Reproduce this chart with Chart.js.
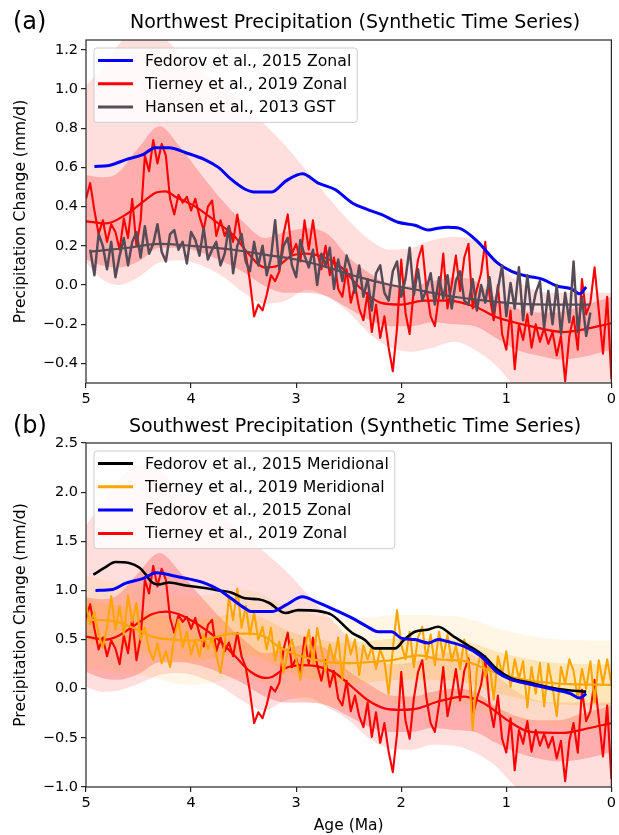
<!DOCTYPE html>
<html>
<head>
<meta charset="utf-8">
<script src="https://cdn.jsdelivr.net/npm/chart.js@4.4.1/dist/chart.umd.min.js"></script>
<style>
  html, body { margin: 0; padding: 0; background: #fff; }
  #wrap { position: relative; width: 619px; height: 835px; }
  #wrap canvas { position: absolute; left: 0; top: 0; }
</style>
</head>
<body>
<div id="wrap">
  <canvas id="panel-a" width="619" height="835"></canvas>
  <canvas id="panel-b" width="619" height="835"></canvas>
</div>
<script>
(function () {
  'use strict';

  var FONT = '"DejaVu Sans", sans-serif';
  var BLUE = '#0000ff', RED = '#ff0000', ORANGE = '#ffa500', BLACK = '#000000', GREY = '#574b57';

  // ---- axes / ticks ----
  var xTicks = [5, 4, 3, 2, 1, 0];
  var yTicksTop = [-0.4, -0.2, 0.0, 0.2, 0.4, 0.6, 0.8, 1.0, 1.2];
  var yTicksBot = [-1.0, -0.5, 0.0, 0.5, 1.0, 1.5, 2.0, 2.5];

  // noisy series are sampled every 0.04 Ma
  var NOISE_STEP = 0.04;
  var redStart = 5.0, orangeStart = 5.0, hansenStart = 4.96;

  // ---- panel (a): Northwest ----
  var topRedNoisy = [
    0.44, 0.52, 0.38, 0.26, 0.33, 0.22, 0.31, 0.27, 0.18, 0.34,
    0.24, 0.44, 0.20, 0.33, 0.66, 0.58, 0.74, 0.62, 0.72, 0.66,
    0.44, 0.36, 0.46, 0.42, 0.45, 0.38, 0.44, 0.35, 0.28, 0.40,
    0.43, 0.25, 0.33, 0.25, 0.30, 0.22, 0.36, 0.22, 0.16, 0.02,
    -0.16, -0.10, -0.13, -0.05, 0.05, 0.02, 0.07, 0.26, 0.36, 0.16,
    0.21, 0.12, 0.33, 0.18, 0.33, 0.17, 0.08, 0.20, 0.05, 0.14,
    -0.02, -0.06, 0.08, -0.09, 0.00, -0.12, -0.18, -0.04, -0.24, -0.10,
    -0.27, -0.16, -0.32, -0.44, -0.22, 0.13, -0.14, -0.25, -0.02, 0.13,
    0.20, -0.02, -0.16, -0.21, -0.05, 0.16, -0.12, 0.00, 0.15, -0.03,
    0.14, 0.21, -0.12, -0.02, 0.06, 0.22, -0.05, -0.18, 0.00, -0.25,
    -0.33, -0.13, -0.43, -0.20, -0.28, -0.15, -0.32, -0.20, -0.29, -0.22,
    -0.30, -0.24, -0.36, -0.26, -0.49, -0.26, -0.16, -0.33, 0.03, -0.15,
    -0.09, 0.09, -0.13, -0.35, -0.06, -0.48
  ];
  var hansenNoisy = [
    0.18, 0.05, 0.26, 0.20, 0.08, 0.22, 0.04, 0.15, 0.24, 0.10,
    0.22, 0.27, 0.14, 0.30, 0.16, 0.21, 0.31, 0.17, 0.12, 0.26,
    0.28, 0.18, 0.22, 0.11, 0.27, 0.23, 0.15, 0.29, 0.13, 0.18,
    0.22, 0.10, 0.16, 0.30, 0.06, 0.20, 0.26, 0.12, 0.07, 0.22,
    0.10, 0.20, 0.05, 0.14, 0.33, 0.08, 0.20, 0.24, 0.10, 0.04,
    0.23, 0.15, 0.09, 0.18, 0.00, 0.16, 0.10, 0.19, -0.02, 0.13,
    0.02, 0.15, 0.08, -0.04, 0.10, -0.06, 0.03, -0.13, 0.06, 0.10,
    -0.04, -0.08, 0.07, 0.12, -0.06, 0.03, 0.19, -0.05, 0.08, -0.08,
    -0.02, 0.06, -0.10, 0.04, -0.07, 0.05, -0.12, 0.02, 0.07, -0.08,
    -0.10, 0.03, -0.13, 0.00, -0.09, 0.04, -0.14, -0.02, 0.10, -0.16,
    0.01, -0.12, 0.09, -0.18, 0.05, -0.15, -0.04, 0.02, -0.22, -0.03,
    -0.20, 0.00, -0.25, -0.04, -0.19, 0.12, -0.24, -0.06, -0.26, -0.14
  ];
  var hansenMeanAge = [4.96, 4.6, 4.3, 4.0, 3.6, 3.3, 3.0, 2.7, 2.4, 2.1, 1.8, 1.5, 1.2, 0.9, 0.5, 0.2];
  var hansenMeanVal = [0.17, 0.19, 0.21, 0.20, 0.18, 0.155, 0.13, 0.09, 0.04, 0.0, -0.03, -0.06, -0.08, -0.095, -0.10, -0.10];

  var topRedMeanAge = [5.0, 4.81, 4.62, 4.43, 4.34, 4.24, 4.15, 3.96, 3.78, 3.59, 3.47, 3.30, 3.17, 3.04, 2.90, 2.73, 2.57, 2.41, 2.20, 2.00, 1.78, 1.55, 1.28, 1.09, 0.77, 0.45, 0.30, 0.0];
  var topRedMeanVal = [0.325, 0.314, 0.36, 0.436, 0.47, 0.478, 0.45, 0.40, 0.33, 0.25, 0.17, 0.09, 0.10, 0.15, 0.16, 0.14, 0.09, -0.005, -0.09, -0.10, -0.08, -0.08, -0.115, -0.165, -0.21, -0.24, -0.23, -0.195];

  var topFedAge = [4.92, 4.78, 4.62, 4.46, 4.34, 4.21, 4.05, 3.87, 3.74, 3.62, 3.49, 3.40, 3.23, 3.10, 2.94, 2.79, 2.63, 2.47, 2.32, 2.19, 2.03, 1.87, 1.74, 1.65, 1.56, 1.45, 1.28, 1.09, 0.95, 0.80, 0.66, 0.52, 0.38, 0.30, 0.24];
  var topFedVal = [0.605, 0.61, 0.64, 0.665, 0.70, 0.70, 0.675, 0.64, 0.60, 0.54, 0.49, 0.475, 0.475, 0.53, 0.568, 0.52, 0.487, 0.42, 0.385, 0.36, 0.32, 0.305, 0.28, 0.29, 0.295, 0.29, 0.225, 0.115, 0.07, 0.045, 0.03, -0.005, -0.02, -0.045, -0.01];

  var bandAge = [5.0, 4.85, 4.7, 4.5, 4.3, 4.1, 3.9, 3.7, 3.5, 3.3, 3.1, 2.9, 2.7, 2.5, 2.3, 2.1, 1.9, 1.7, 1.5, 1.3, 1.1, 0.9, 0.7, 0.5, 0.3, 0.0];
  var topOuterHi = [1.02, 1.10, 1.22, 1.31, 1.28, 1.18, 1.09, 1.02, 0.93, 0.82, 0.71, 0.58, 0.45, 0.33, 0.23, 0.18, 0.19, 0.23, 0.245, 0.225, 0.12, 0.02, -0.03, -0.04, -0.04, -0.04];
  var topOuterLo = [0.115, 0.03, 0.0, 0.04, 0.115, 0.125, 0.10, 0.045, -0.04, -0.095, -0.08, -0.025, -0.06, -0.14, -0.25, -0.32, -0.34, -0.32, -0.29, -0.33, -0.41, -0.53, -0.60, -0.64, -0.64, -0.60];
  var topInnerHi = [0.56, 0.55, 0.57, 0.70, 0.81, 0.70, 0.56, 0.43, 0.32, 0.24, 0.27, 0.29, 0.26, 0.14, 0.06, 0.0, -0.005, 0.02, 0.04, 0.02, -0.065, -0.12, -0.14, -0.14, -0.11, -0.06];
  var topInnerLo = [0.13, 0.10, 0.09, 0.12, 0.19, 0.19, 0.165, 0.12, 0.065, -0.005, -0.04, -0.04, -0.06, -0.12, -0.18, -0.21, -0.21, -0.19, -0.20, -0.21, -0.27, -0.33, -0.36, -0.38, -0.37, -0.33];

  // ---- panel (b): Southwest ----
  var botRedNoisy = [
    0.72, 0.86, 0.61, 0.40, 0.52, 0.33, 0.49, 0.41, 0.25, 0.54,
    0.36, 0.72, 0.29, 0.52, 1.11, 0.97, 1.25, 1.04, 1.22, 1.11,
    0.72, 0.57, 0.75, 0.68, 0.73, 0.61, 0.72, 0.56, 0.43, 0.65,
    0.70, 0.38, 0.52, 0.38, 0.47, 0.33, 0.57, 0.33, 0.22, -0.03,
    -0.35, -0.24, -0.30, -0.16, 0.02, -0.03, 0.06, 0.40, 0.57, 0.22,
    0.31, 0.15, 0.52, 0.25, 0.52, 0.24, 0.08, 0.29, 0.02, 0.18,
    -0.10, -0.17, 0.08, -0.23, -0.07, -0.28, -0.39, -0.14, -0.49, -0.24,
    -0.55, -0.35, -0.64, -0.85, -0.46, 0.17, -0.32, -0.51, -0.10, 0.17,
    0.29, -0.10, -0.35, -0.44, -0.16, 0.22, -0.28, -0.07, 0.20, -0.12,
    0.18, 0.31, -0.28, -0.10, 0.04, 0.33, -0.16, -0.39, -0.07, -0.51,
    -0.65, -0.30, -0.83, -0.42, -0.56, -0.33, -0.64, -0.42, -0.58, -0.46,
    -0.60, -0.49, -0.71, -0.53, -0.94, -0.53, -0.35, -0.65, -0.01, -0.33,
    -0.23, 0.09, -0.30, -0.69, -0.17, -0.92
  ];
  var orangeNoisy = [
    0.85, 0.66, 0.78, 0.55, 0.42, 0.62, 0.94, 0.60, 0.84, 0.55,
    0.95, 0.68, 0.87, 0.50, 0.62, 0.40, 0.29, 0.46, 0.26, 0.38,
    0.22, 0.52, 0.70, 0.42, 0.58, 0.35, 0.50, 0.33, 0.55, 0.40,
    0.52, 0.34, 0.16, 0.45, 0.94, 0.70, 1.02, 0.62, 0.84, 0.55,
    0.77, 0.50, 0.63, 0.40, 0.62, 0.29, 0.48, 0.16, 0.38, 0.50,
    0.30, 0.09, 0.40, 0.60, 0.26, 0.62, 0.40, 0.18, 0.45, 0.28,
    0.52, 0.10, 0.55, 0.35, 0.50, 0.14, 0.44, 0.30, 0.42, 0.20,
    0.40, 0.28, -0.05, 0.40, 0.80, 0.45, 0.30, 0.58, 0.22, 0.52,
    0.63, 0.30, 0.55, 0.24, 0.58, 0.32, 0.55, 0.28, 0.44, 0.20,
    0.50, 0.25, -0.42, 0.20, 0.36, 0.12, 0.25, -0.11, 0.33, 0.15,
    0.38, 0.02, 0.30, 0.10, 0.28, -0.19, 0.22, -0.05, 0.26, -0.18,
    0.25, 0.02, -0.28, 0.22, 0.05, 0.30, 0.18, -0.10, 0.20, 0.00,
    0.28, -0.14, 0.29, 0.05, 0.30, 0.05
  ];

  var botRedMeanAge = [5.0, 4.81, 4.69, 4.53, 4.37, 4.24, 4.12, 3.93, 3.74, 3.58, 3.43, 3.30, 3.23, 3.10, 2.94, 2.79, 2.63, 2.47, 2.32, 2.16, 2.00, 1.84, 1.65, 1.40, 1.21, 0.99, 0.77, 0.46, 0.21, 0.0];
  var botRedMeanVal = [0.53, 0.50, 0.54, 0.65, 0.76, 0.785, 0.76, 0.65, 0.50, 0.33, 0.17, 0.11, 0.12, 0.21, 0.24, 0.225, 0.16, 0.02, -0.115, -0.20, -0.215, -0.20, -0.13, -0.08, -0.15, -0.32, -0.44, -0.45, -0.40, -0.35];

  var orangeMeanAge = [5.0, 4.75, 4.53, 4.37, 4.18, 3.99, 3.80, 3.62, 3.43, 3.30, 3.17, 2.98, 2.73, 2.47, 2.32, 2.09, 1.83, 1.65, 1.40, 1.09, 0.77, 0.46, 0.0];
  var orangeMeanVal = [0.70, 0.69, 0.61, 0.53, 0.50, 0.49, 0.515, 0.56, 0.56, 0.53, 0.43, 0.34, 0.275, 0.26, 0.27, 0.29, 0.34, 0.30, 0.28, 0.16, 0.08, 0.05, 0.04];

  var fedMerAge = [4.93, 4.81, 4.72, 4.59, 4.49, 4.43, 4.37, 4.31, 4.21, 4.05, 3.87, 3.74, 3.62, 3.49, 3.36, 3.26, 3.10, 2.98, 2.79, 2.66, 2.47, 2.35, 2.25, 2.06, 1.97, 1.87, 1.75, 1.65, 1.50, 1.37, 1.21, 1.09, 0.96, 0.77, 0.52, 0.36, 0.24];
  var fedMerVal = [1.16, 1.24, 1.29, 1.28, 1.23, 1.16, 1.08, 1.06, 1.08, 1.05, 1.025, 1.0, 0.98, 0.92, 0.91, 0.875, 0.77, 0.80, 0.79, 0.75, 0.57, 0.50, 0.41, 0.41, 0.50, 0.58, 0.60, 0.63, 0.53, 0.445, 0.33, 0.20, 0.11, 0.06, 0.0, -0.02, -0.03];

  var botFedAge = [4.91, 4.75, 4.62, 4.46, 4.33, 4.17, 3.99, 3.87, 3.74, 3.62, 3.49, 3.43, 3.23, 3.10, 2.94, 2.79, 2.63, 2.47, 2.32, 2.22, 2.09, 2.00, 1.87, 1.74, 1.65, 1.56, 1.40, 1.24, 1.09, 0.96, 0.77, 0.58, 0.39, 0.30, 0.24];
  var botFedVal = [1.0, 1.01, 1.075, 1.12, 1.18, 1.15, 1.11, 1.075, 1.01, 0.92, 0.82, 0.785, 0.785, 0.85, 0.935, 0.875, 0.80, 0.72, 0.63, 0.58, 0.58, 0.515, 0.50, 0.465, 0.50, 0.48, 0.43, 0.33, 0.17, 0.095, 0.045, 0.0, -0.05, -0.095, -0.05];

  var botOuterHi = [1.66, 1.89, 2.10, 2.27, 2.21, 2.03, 1.87, 1.75, 1.59, 1.39, 1.20, 0.97, 0.74, 0.52, 0.34, 0.25, 0.27, 0.34, 0.37, 0.33, 0.15, -0.03, -0.12, -0.14, -0.14, -0.14];
  var botOuterLo = [0.02, -0.03, -0.02, 0.05, 0.14, 0.16, 0.11, 0.01, -0.13, -0.22, -0.12, -0.09, -0.19, -0.32, -0.51, -0.61, -0.62, -0.57, -0.58, -0.65, -0.79, -1.01, -1.13, -1.20, -1.20, -1.13];
  var botInnerHi = [0.93, 0.91, 0.95, 1.18, 1.38, 1.18, 0.93, 0.70, 0.50, 0.36, 0.41, 0.45, 0.40, 0.18, 0.04, -0.07, -0.08, -0.03, 0.0, -0.03, -0.18, -0.28, -0.32, -0.32, -0.26, -0.17];
  var botInnerLo = [0.17, 0.11, 0.09, 0.15, 0.27, 0.27, 0.23, 0.15, 0.05, -0.08, -0.14, -0.14, -0.17, -0.28, -0.39, -0.44, -0.44, -0.40, -0.42, -0.44, -0.55, -0.65, -0.71, -0.74, -0.72, -0.65];

  var orangeBandAge = [5.0, 4.5, 4.0, 3.5, 3.0, 2.5, 2.0, 1.5, 1.0, 0.5, 0.0];
  var orangeOuterHi = [1.15, 1.04, 0.94, 1.01, 0.80, 0.71, 0.75, 0.74, 0.59, 0.50, 0.49];
  var orangeOuterLo = [0.20, 0.14, 0.04, 0.11, -0.10, -0.19, -0.15, -0.16, -0.31, -0.40, -0.41];
  var orangeInnerHi = [0.91, 0.80, 0.70, 0.77, 0.56, 0.47, 0.51, 0.50, 0.35, 0.26, 0.25];
  var orangeInnerLo = [0.49, 0.38, 0.28, 0.35, 0.14, 0.05, 0.09, 0.08, -0.07, -0.16, -0.17];

  var topLegendLabels = ['Fedorov et al., 2015 Zonal', 'Tierney et al., 2019 Zonal', 'Hansen et al., 2013 GST'];
  var topLegendColors = [BLUE, RED, GREY];
  var botLegendLabels = ['Fedorov et al., 2015 Meridional', 'Tierney et al., 2019 Meridional', 'Fedorov et al., 2015 Zonal', 'Tierney et al., 2019 Zonal'];
  var botLegendColors = [BLACK, ORANGE, BLUE, RED];

  // ---- helpers ----
  function pts(ages, vals) {
    return vals.map(function (v, i) { return { x: ages[i], y: v }; });
  }
  function gridPts(start, vals) {
    return vals.map(function (v, i) { return { x: +(start - i * NOISE_STEP).toFixed(2), y: v }; });
  }
  function line(data, color, width, order, smooth) {
    return {
      data: data, borderColor: color, borderWidth: width, pointRadius: 0, fill: false,
      order: order, tension: 0, cubicInterpolationMode: smooth ? 'monotone' : 'default',
      borderJoinStyle: 'round', borderCapStyle: 'butt'
    };
  }
  function band(ages, hi, lo, color, order) {
    return [
      { data: pts(ages, hi), borderColor: 'rgba(0,0,0,0)', borderWidth: 0, pointRadius: 0,
        fill: '+1', backgroundColor: color, order: order, cubicInterpolationMode: 'monotone' },
      { data: pts(ages, lo), borderColor: 'rgba(0,0,0,0)', borderWidth: 0, pointRadius: 0,
        fill: false, order: order, cubicInterpolationMode: 'monotone' }
    ];
  }
  function fmt(v) {
    return (v < 0 ? '\u2212' : '') + Math.abs(v).toFixed(1);
  }

  function scales(yMin, yMax, yTicks, xTitle) {
    var gridOpts = { display: true, drawOnChartArea: false, drawTicks: true, tickLength: 5, color: '#262626', lineWidth: 1.2 };
    return {
      x: {
        type: 'linear', reverse: true, min: 0, max: 5,
        afterBuildTicks: function (s) { s.ticks = xTicks.map(function (v) { return { value: v }; }); },
        afterFit: function (s) { s.height = xTitle ? 48 : 30; },
        grid: gridOpts,
        border: { display: false },
        ticks: { color: '#000', font: { family: FONT, size: 14.5 }, padding: 3, maxRotation: 0, autoSkip: false,
          callback: function (v) { return String(v); } },
        title: { display: !!xTitle, text: xTitle || '', color: '#000', font: { family: FONT, size: 15.5 }, padding: 0 }
      },
      y: {
        type: 'linear', min: yMin, max: yMax,
        afterBuildTicks: function (s) { s.ticks = yTicks.map(function (v) { return { value: v }; }); },
        afterFit: function (s) { s.width = 86; },
        grid: gridOpts,
        border: { display: false },
        ticks: { color: '#000', font: { family: FONT, size: 14.5 }, padding: 3, autoSkip: false, callback: fmt },
        title: { display: true, text: 'Precipitation Change (mm/d)', color: '#000',
          font: { family: FONT, size: 15.5 }, padding: { top: 12, bottom: 0 } }
      }
    };
  }

  // frame, title, panel letter and the matplotlib-style legend box
  var panelDecor = {
    id: 'panelDecor',
    afterDraw: function (chart, args, o) {
      var ctx = chart.ctx, a = chart.chartArea;
      ctx.save();
      ctx.strokeStyle = '#262626';
      ctx.lineWidth = 1.2;
      ctx.strokeRect(a.left, a.top, a.right - a.left, a.bottom - a.top);

      ctx.fillStyle = '#000';
      ctx.textBaseline = 'middle';
      ctx.textAlign = 'center';
      ctx.font = '19px ' + FONT;
      ctx.fillText(o.title, 355, o.titleY);
      ctx.textAlign = 'left';
      ctx.font = '24px ' + FONT;
      ctx.fillText(o.letter, 13, o.titleY);

      ctx.font = '15.7px ' + FONT;
      var maxW = 0;
      o.labels.forEach(function (t) { maxW = Math.max(maxW, ctx.measureText(t).width); });
      var bx = a.left + 8, by = a.top + 8, rowH = 23.3;
      var bw = 51 + maxW + 6, bh = o.labels.length * rowH + 4.5;
      ctx.beginPath();
      ctx.roundRect(bx, by, bw, bh, 3);
      ctx.fillStyle = 'rgba(255,255,255,0.8)';
      ctx.fill();
      ctx.strokeStyle = '#cccccc';
      ctx.lineWidth = 1;
      ctx.stroke();
      o.labels.forEach(function (t, i) {
        var cy = by + 12.5 + i * rowH;
        ctx.beginPath();
        ctx.moveTo(bx + 4, cy);
        ctx.lineTo(bx + 39, cy);
        ctx.strokeStyle = o.colors[i];
        ctx.lineWidth = 3;
        ctx.stroke();
        ctx.fillStyle = '#000';
        ctx.fillText(t, bx + 51, cy + 1);
      });
      ctx.restore();
    }
  };

  function makeChart(id, datasets, padding, sc, decor) {
    return new Chart(document.getElementById(id), {
      type: 'line',
      data: { datasets: datasets },
      options: {
        responsive: false, animation: false, devicePixelRatio: 1,
        layout: { padding: padding },
        scales: sc,
        plugins: { legend: { display: false }, tooltip: { enabled: false }, panelDecor: decor }
      },
      plugins: [panelDecor]
    });
  }

  var topSets = []
    .concat(band(bandAge, topOuterHi, topOuterLo, 'rgba(255,0,0,0.13)', 9))
    .concat(band(bandAge, topInnerHi, topInnerLo, 'rgba(255,0,0,0.22)', 8))
    .concat([
      line(gridPts(redStart, topRedNoisy), RED, 2.1, 5, false),
      line(pts(topRedMeanAge, topRedMeanVal), RED, 2.2, 4, true),
      line(pts(topFedAge, topFedVal), BLUE, 3, 3, true),
      line(gridPts(hansenStart, hansenNoisy), GREY, 2.5, 2, false),
      line(pts(hansenMeanAge, hansenMeanVal), GREY, 2.2, 1, true)
    ]);

  var botSets = []
    .concat(band(bandAge, botOuterHi, botOuterLo, 'rgba(255,0,0,0.13)', 12))
    .concat(band(bandAge, botInnerHi, botInnerLo, 'rgba(255,0,0,0.22)', 11))
    .concat(band(orangeBandAge, orangeOuterHi, orangeOuterLo, 'rgba(255,165,0,0.10)', 10))
    .concat(band(orangeBandAge, orangeInnerHi, orangeInnerLo, 'rgba(255,165,0,0.20)', 9))
    .concat([
      line(gridPts(redStart, botRedNoisy), RED, 2.1, 7, false),
      line(pts(botRedMeanAge, botRedMeanVal), RED, 2.2, 6, true),
      line(gridPts(orangeStart, orangeNoisy), ORANGE, 2.1, 5, false),
      line(pts(orangeMeanAge, orangeMeanVal), ORANGE, 2.2, 4, true),
      line(pts(fedMerAge, fedMerVal), BLACK, 2.6, 3, true),
      line(pts(botFedAge, botFedVal), BLUE, 3, 2, true)
    ]);

  makeChart('panel-a', topSets, { left: 0, right: 4, top: 40, bottom: 422 },
    scales(-0.5, 1.25, yTicksTop, null),
    { title: 'Northwest Precipitation (Synthetic Time Series)', titleY: 23, letter: '(a)',
      labels: topLegendLabels, colors: topLegendColors });

  makeChart('panel-b', botSets, { left: 0, right: 4, top: 443, bottom: 0 },
    scales(-1.0, 2.5, yTicksBot, 'Age (Ma)'),
    { title: 'Southwest Precipitation (Synthetic Time Series)', titleY: 427, letter: '(b)',
      labels: botLegendLabels, colors: botLegendColors });
})();
</script>
</body>
</html>
